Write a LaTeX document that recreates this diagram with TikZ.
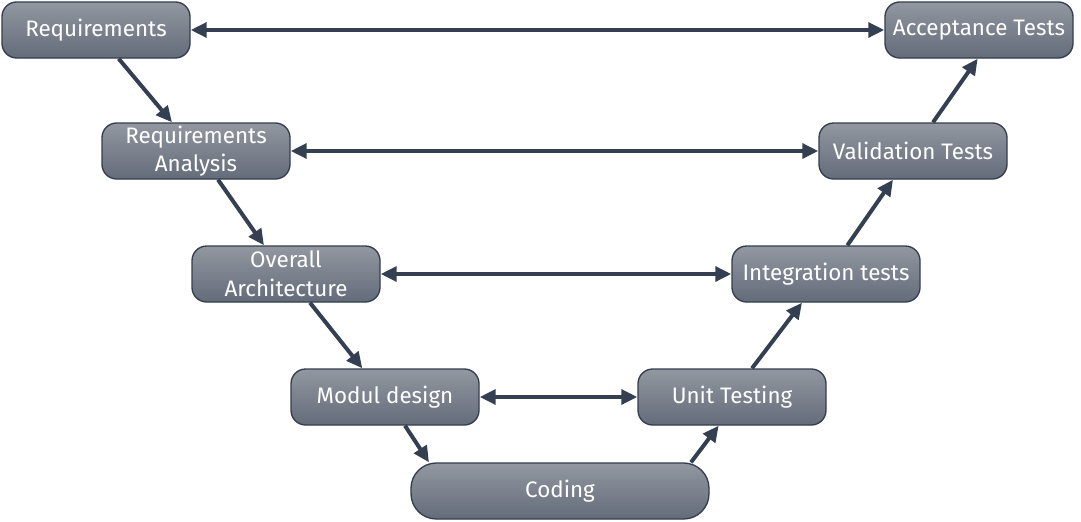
\documentclass[tikz,border=0pt]{standalone}
\usepackage{fontspec}
\setmainfont{Fira Sans}
\usetikzlibrary{arrows.meta}

\definecolor{boxtop}{RGB}{146,151,160}
\definecolor{boxbot}{RGB}{100,108,122}
\definecolor{boxline}{RGB}{52,62,78}
\definecolor{flow}{RGB}{52,64,82}

\tikzset{every picture/.style={line width=0.75pt}}
\tikzset{
  phase/.style={draw=boxline, line width=1pt, rounded corners=11pt, top color=boxtop, bottom color=boxbot,
    minimum width=141pt, minimum height=42pt, inner sep=0pt, align=center, text=white,
    font=\fontsize{16.8}{21.5}\selectfont},
  codebox/.style={phase, minimum width=223.5pt, rounded corners=19pt},
  flowline/.style={draw=flow, line width=3pt, -{Triangle[length=12pt,width=11pt]}},
  twoway/.style={flowline, {Triangle[length=12pt,width=11pt]}-{Triangle[length=12pt,width=11pt]}}
}

\begin{document}
\begin{tikzpicture}[x=0.75pt,y=0.75pt,yscale=-1,xscale=1]
\useasboundingbox (0,0) rectangle (1081,521);

% left branch
\node[phase] (req) at (96,30) {Requirements};
\node[phase] (reqan) at (196,151) {Requirements\\Analysis};
\node[phase] (arch) at (286,274) {Overall\\Architecture};
\node[phase] (modul) at (385,397) {Modul design};
% bottom
\node[codebox] (coding) at (560,491) {Coding};
% right branch
\node[phase] (unit) at (732,397) {Unit Testing};
\node[phase] (integ) at (826,274) {Integration tests};
\node[phase] (valid) at (913,151) {Validation Tests};
\node[phase] (accept) at (979,30) {Acceptance Tests};

% going down
\draw[flowline] ([xshift=17pt]req.south) -- ([xshift=-18pt]reqan.north);
\draw[flowline] ([xshift=16.5pt]reqan.south) -- ([xshift=-16.5pt]arch.north);
\draw[flowline] ([xshift=18pt]arch.south) -- ([xshift=-17pt]modul.north);
\draw[flowline] ([xshift=15pt]modul.south) -- ([xshift=14pt]coding.north west);
% going up
\draw[flowline] ([xshift=-14pt]coding.north east) -- ([xshift=-10pt]unit.north |- unit.south);
\draw[flowline] ([xshift=15pt]unit.north) -- ([xshift=-18pt]integ.south);
\draw[flowline] ([xshift=16pt]integ.north) -- ([xshift=-15pt]valid.south);
\draw[flowline] ([xshift=15pt]valid.north) -- ([xshift=-1pt]accept.south);

% across
\draw[twoway] (req) -- (accept);
\draw[twoway] (reqan) -- (valid);
\draw[twoway] (arch) -- (integ);
\draw[twoway] (modul) -- (unit);

\end{tikzpicture}
\end{document}
